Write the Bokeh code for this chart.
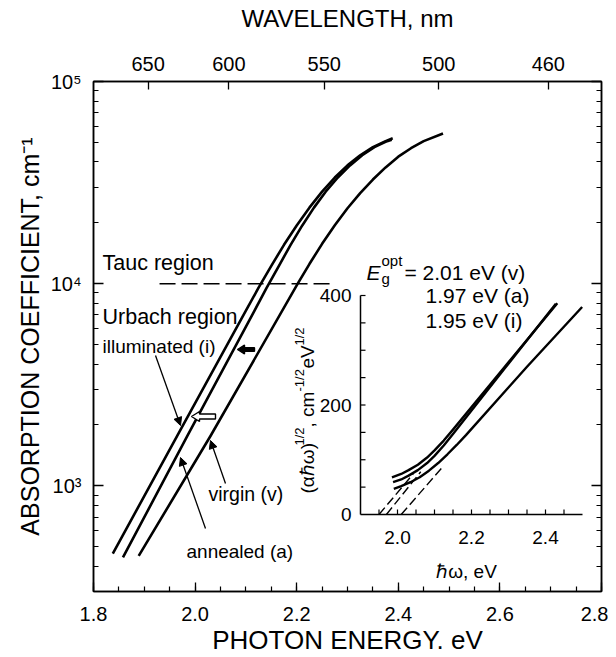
import math
from bokeh.plotting import figure
from bokeh.models import (Range1d, LinearAxis, LogAxis, FixedTicker, LinearScale,
                          CustomJSTickFormatter, Label, Arrow, NormalHead)
from bokeh.embed import file_html
from bokeh.resources import INLINE

FONT = "Liberation Sans"

# ---------------- data: main panel (photon energy, eV ; absorption coefficient, cm^-1)
E_illum = [1.838, 1.965, 2.100, 2.125, 2.150, 2.175, 2.200, 2.225, 2.250, 2.275,
           2.300, 2.325, 2.350, 2.375, 2.389]
alpha_illum = [462, 1770, 7362, 9550, 12250, 15560, 19410, 23770, 28510, 33500,
               38460, 43150, 47320, 50700, 52360]
E_anneal = [1.858, 1.985, 2.117, 2.141, 2.165, 2.188, 2.211, 2.234, 2.257, 2.281,
            2.305, 2.329, 2.353, 2.378, 2.387]
alpha_anneal = [442, 1770, 7362, 9550, 12250, 15560, 19410, 23770, 28510, 33500,
                38460, 43150, 47320, 50700, 51520]
E_virgin = [1.889, 2.030, 2.202, 2.225, 2.250, 2.275, 2.300, 2.325, 2.350, 2.375,
            2.400, 2.425, 2.450, 2.488]
alpha_virgin = [450, 1758, 10000, 12500, 15740, 19450, 23600, 28050, 32730, 37580,
                42460, 46770, 50700, 55340]

region_boundary_alpha = 1e4
region_boundary_E = [1.93, 2.27]

# ---------------- data: inset (Tauc plot)
tE_illum = [1.985, 2.010, 2.030, 2.055, 2.080, 2.100, 2.125, 2.150, 2.290, 2.432]
tY_illum = [68, 74, 81, 91, 104, 117, 135, 155, 270, 386]
tE_anneal = [1.988, 2.010, 2.030, 2.055, 2.080, 2.100, 2.125, 2.150, 2.290, 2.428]
tY_anneal = [59, 64, 71, 81, 94, 107, 126, 147, 267, 385]
tE_virgin = [1.990, 2.010, 2.035, 2.060, 2.085, 2.110, 2.135, 2.160, 2.185, 2.350, 2.499]
tY_virgin = [47, 52, 59, 68, 80, 94, 110, 127, 145, 270, 379]

Eg_opt = [2.01, 1.97, 1.95]          # virgin, annealed, illuminated
tauc_slope = [775, 841, 801]
extrap_top = [88, 78, 74]
Eg_labels = ["2.01 eV (v)", "1.97 eV (a)", "1.95 eV (i)"]

# ---------------- ticks
x_major = [1.8, 2.0, 2.2, 2.4, 2.6, 2.8]
x_minor = [round(1.8 + 0.05 * k, 2) for k in range(21)]
y_major = [1e3, 1e4, 1e5]
y_tick_labels = ["10\u00b3", "10\u2074", "10\u2075"]
y_minor = [m * 10 ** d for d in (2, 3, 4) for m in range(2, 10) if 300 <= m * 10 ** d <= 1e5]
wavelength_ticks = [650, 600, 550, 500, 460]

inset_xlim = [1.9, 2.5]
inset_ylim = [0, 400]
inset_xlabels = [2.0, 2.2, 2.4]
inset_ylabels = [0, 200, 400]
inset_xticks = [round(1.95 + 0.05 * k, 2) for k in range(11)]
inset_yticks = [50 * k for k in range(1, 9)]

# ---------------- layout
BL, BR, BT, BB = 93, 7, 81, 66
FW, FH = 508, 510
X0, X1 = 1.8, 2.8
Y0, Y1 = 300.0, 1e5
PAGE_L, PAGE_T = BL, BT
DEC = math.log10(Y1 / Y0)


def ex(px):
    return X0 + (px - PAGE_L) / FW * (X1 - X0)


def ay(py):
    return 10 ** (math.log10(Y1) - (py - PAGE_T) / FH * DEC)


# inset placement (page pixels of the inset axis ends)
ipx = (360, 582)
ipy = (514, 295)
kx = (inset_xlim[1] - inset_xlim[0]) / (ipx[1] - ipx[0])
ky = (inset_ylim[1] - inset_ylim[0]) / (ipy[0] - ipy[1])
ixr = Range1d(inset_xlim[0] - (ipx[0] - PAGE_L) * kx, inset_xlim[1] + (PAGE_L + FW - ipx[1]) * kx)
iyr = Range1d(inset_ylim[0] - (PAGE_T + FH - ipy[0]) * ky, inset_ylim[1] + (ipy[1] - PAGE_T) * ky)


def ix(px):
    return ixr.start + (px - PAGE_L) * kx


def iy(py):
    return iyr.start + (PAGE_T + FH - py) * ky


p = figure(frame_width=FW, frame_height=FH, min_border_left=BL, min_border_right=BR,
           min_border_top=BT, min_border_bottom=BB,
           x_range=Range1d(X0, X1), y_range=Range1d(Y0, Y1), y_axis_type="log",
           output_backend="svg", toolbar_location=None)
p.extra_x_ranges = {"ix": ixr}
p.extra_y_ranges = {"iy": iyr}
p.extra_x_scales = {"ix": LinearScale()}
p.extra_y_scales = {"iy": LinearScale()}
p.xgrid.visible = False
p.ygrid.visible = False
p.outline_line_color = "black"
p.outline_line_width = 1.5
p.background_fill_color = "white"
p.border_fill_color = "white"


def style_axis(ax, tin, mtin):
    ax.major_tick_in = tin
    ax.major_tick_out = 0
    ax.minor_tick_in = mtin
    ax.minor_tick_out = 0
    ax.axis_line_width = 1.5
    ax.major_tick_line_width = 1.3
    ax.minor_tick_line_width = 1.2
    ax.major_label_text_font = FONT
    ax.major_label_text_font_size = "20px"
    ax.major_label_text_color = "black"
    ax.axis_label_text_font = FONT
    ax.axis_label_text_font_style = "normal"
    ax.axis_label_text_color = "black"


xa = p.xaxis[0]
xa.ticker = FixedTicker(ticks=x_major, minor_ticks=x_minor)
xa.formatter = CustomJSTickFormatter(code="return tick.toFixed(1);")
style_axis(xa, 9, 5)
xa.major_label_standoff = 15
xa.axis_label = "PHOTON ENERGY. eV"
xa.axis_label_text_font_size = "26px"
xa.axis_label_standoff = 1

ya = p.yaxis[0]
ya.ticker = FixedTicker(ticks=y_major, minor_ticks=y_minor)
ya.formatter = CustomJSTickFormatter(args=dict(tv=y_major, lbls=y_tick_labels), code="""
const i = tv.findIndex(t => Math.abs(Math.log10(t) - Math.log10(tick)) < 1e-6);
return i >= 0 ? lbls[i] : '';
""")
style_axis(ya, 10, 5)
ya.major_label_standoff = 12
ya.axis_label = "ABSORPTION COEFFICIENT, cm\u207b\u00b9"
ya.axis_label_text_font_size = "25px"
ya.axis_label_standoff = 4

wl_energy = [1239.84 / w for w in wavelength_ticks]
top = LinearAxis(ticker=FixedTicker(ticks=wl_energy, minor_ticks=[]),
                 formatter=CustomJSTickFormatter(args=dict(tv=wl_energy, lbls=[str(w) for w in wavelength_ticks]), code="""
const i = tv.findIndex(t => Math.abs(t - tick) < 1e-6);
return i >= 0 ? lbls[i] : '';
"""))
style_axis(top, 8, 0)
top.major_label_standoff = 11
top.axis_label = "WAVELENGTH, nm"
top.axis_label_text_font_size = "24px"
top.axis_label_standoff = 22
p.add_layout(top, "above")

right = LogAxis(ticker=FixedTicker(ticks=y_major, minor_ticks=y_minor),
                formatter=CustomJSTickFormatter(code="return '';"))
style_axis(right, 10, 5)
right.major_label_standoff = 0
p.add_layout(right, "right")

# ---------------- main curves
for E, A in ((E_illum, alpha_illum), (E_anneal, alpha_anneal), (E_virgin, alpha_virgin)):
    p.line(E, A, line_color="black", line_width=2.6, line_join="round")

p.line(region_boundary_E, [region_boundary_alpha] * 2, line_color="black",
       line_width=1.5, line_dash="16 6")

# ---------------- inset
R = dict(x_range_name="ix", y_range_name="iy")
for E, Y in ((tE_illum, tY_illum), (tE_anneal, tY_anneal), (tE_virgin, tY_virgin)):
    p.line(E, Y, line_color="black", line_width=2.4, line_join="round", **R)
for eg, s, t in zip(Eg_opt, tauc_slope, extrap_top):
    p.line([eg, eg + t / s], [0, t], line_color="black", line_width=1.4, line_dash="9 4", **R)

p.line(inset_xlim, [inset_ylim[0]] * 2, line_color="black", line_width=1.5, **R)
p.line([inset_xlim[0]] * 2, inset_ylim, line_color="black", line_width=1.5, **R)
p.segment(x0=inset_xticks, y0=[0] * len(inset_xticks), x1=inset_xticks,
          y1=[5 * ky] * len(inset_xticks), line_color="black", line_width=1.2, **R)
p.segment(x0=[inset_xlim[0]] * len(inset_yticks), y0=inset_yticks,
          x1=[inset_xlim[0] + 5 * kx] * len(inset_yticks), y1=inset_yticks,
          line_color="black", line_width=1.2, **R)


def lab(x, y, text, size, align="left", baseline="alphabetic", angle=0.0, style="normal",
        xo=0, yo=0, inset=False):
    kw = dict(x_range_name="ix", y_range_name="iy") if inset else {}
    p.add_layout(Label(x=x, y=y, text=text, text_font=FONT, text_font_size=f"{size}px",
                       text_align=align, text_baseline=baseline, angle=angle,
                       text_font_style=style, x_offset=xo, y_offset=yo,
                       text_color="black", **kw))


for v in inset_ylabels:
    lab(inset_xlim[0], v, str(v), 19, align="right", baseline="middle", xo=-9, inset=True)
for v in inset_xlabels:
    lab(v, 0, f"{v:.1f}", 19, align="center", baseline="middle", yo=-23, inset=True)
lab(ix(466), iy(571), "\u210f\u03c9, eV", 19, align="center", inset=True)

# inset y title (rotated, composed of pieces)
ybase = iy(493)
xb = ix(307)
pieces = [("(\u03b1\u210f\u03c9)", 19, 0, 48), ("1/2", 13, -8, 18), (", cm", 19, 0, 36),
          ("-1/2", 13, -8, 23), ("eV", 19, 0, 23), ("1/2", 13, -8, 18)]
off = 0
for t, s, dx, w in pieces:
    lab(xb, ybase, t, s, angle=math.pi / 2, xo=dx, yo=off, inset=True)
    off += w

# ---------------- annotations
lab(ex(102), ay(262), "Tauc region", 21.5)
lab(ex(102), ay(316), "Urbach region", 21.5)
lab(ex(102), ay(346), "illuminated (i)", 19)
lab(ex(208), ay(493), "virgin (v)", 19.5)
lab(ex(186), ay(551), "annealed (a)", 19)

lab(ex(366), ay(272), "E", 21, style="italic")
lab(ex(381), ay(278), "g", 15)
lab(ex(381), ay(260), "opt", 15)
lab(ex(404), ay(272), "= " + Eg_labels[0], 21)
lab(ex(425), ay(295), Eg_labels[1], 21)
lab(ex(425), ay(320), Eg_labels[2], 21)

for (x0, y0, x1, y1) in ((155, 355, 180, 425), (205, 528, 180, 457), (225, 483, 210, 440)):
    p.add_layout(Arrow(x_start=ex(x0), y_start=ay(y0), x_end=ex(x1), y_end=ay(y1),
                       line_width=1.3, line_color="black",
                       end=NormalHead(size=8, fill_color="black", line_color="black")))


def block_arrow(tx, ty, L, hl, hh, sh, fill):
    pts = [(0, 0), (hl, -hh), (hl, -sh), (L, -sh), (L, sh), (hl, sh), (hl, hh)]
    p.patch([ex(tx + dx) for dx, dy in pts], [ay(ty + dy) for dx, dy in pts],
            fill_color=fill, line_color="black", line_width=1.4)


block_arrow(191, 416, 24, 8, 5, 2.5, "white")
block_arrow(237, 349, 17, 7, 4.5, 1.8, "black")

open("out.html", "w").write(file_html(p, INLINE))
